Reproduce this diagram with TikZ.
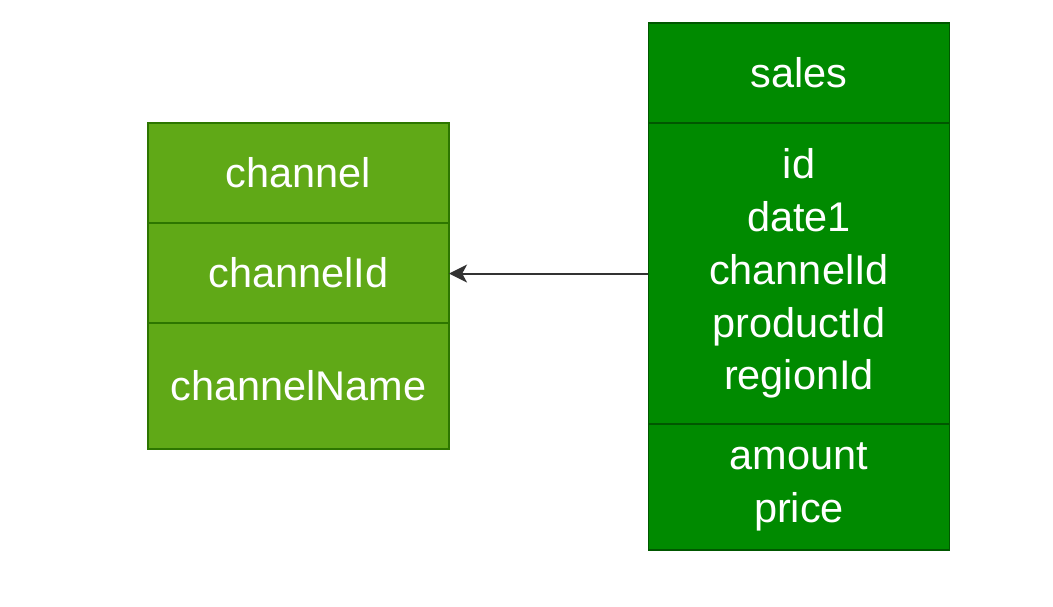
\documentclass[tikz,border=0pt]{standalone}
\usepackage{fontspec}
\setmainfont{Liberation Sans}
\usetikzlibrary{positioning,arrows.meta}
\definecolor{channelfill}{HTML}{60A917}
\definecolor{channelline}{HTML}{2D7600}
\definecolor{salesfill}{HTML}{008A00}
\definecolor{salesline}{HTML}{005700}
\definecolor{linkgray}{HTML}{333333}
\tikzset{
  field/.style={draw, line width=1pt, outer sep=0pt, inner sep=0pt, text=white,
    minimum width=7.525cm, align=center,
    font=\fontsize{29.5}{37.5}\selectfont},
  channelrow/.style={field, fill=channelfill, draw=channelline},
  salesrow/.style={field, fill=salesfill, draw=salesline},
}
\begin{document}
\begin{tikzpicture}[x=0.025cm,y=-0.025cm]
  \useasboundingbox (0,0) rectangle (1053,606);

	% channel table
	\node[channelrow, minimum height=2.5cm] (channel) at (298.5,173) {channel};
	\node[channelrow, minimum height=2.5cm, below=0pt of channel] (channelid) {channelId};
	\node[channelrow, minimum height=3.15cm, below=0pt of channelid] (channelname) {channelName};

	% sales table
	\node[salesrow, minimum height=2.5cm] (sales) at (799,73) {sales};
	\node[salesrow, minimum height=7.525cm, below=0pt of sales] (saleskeys) {id\\date1\\channelId\\productId\\regionId};
	\node[salesrow, minimum height=3.15cm, below=0pt of saleskeys] (salesvalues) {amount\\price};

	% foreign key
	\draw[linkgray, line width=1.4pt, -{Stealth[length=0.45cm, width=0.45cm, inset=0.12cm]}]
	  (saleskeys.west) -- (saleskeys.west -| channelid.east);

\end{tikzpicture}
\end{document}
